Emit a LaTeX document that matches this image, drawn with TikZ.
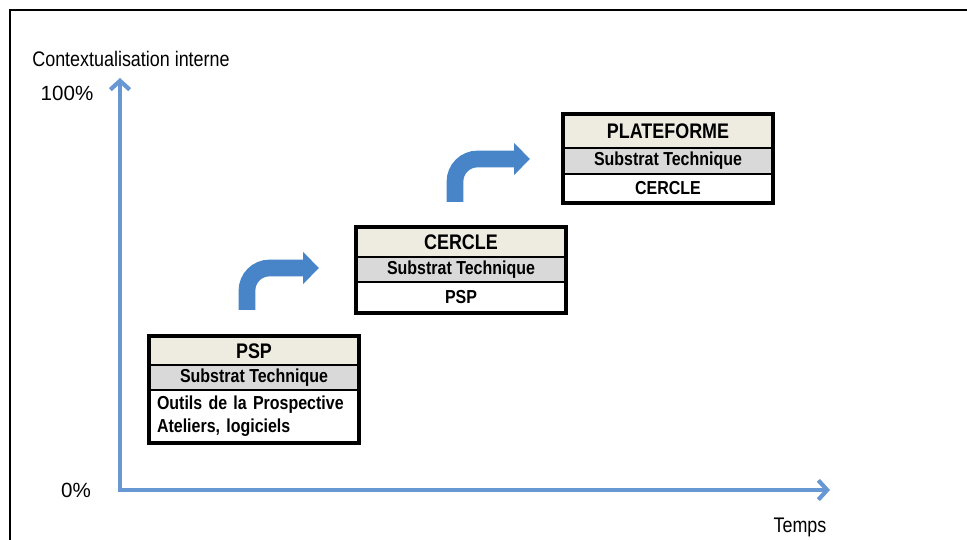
\documentclass[tikz,border=0pt]{standalone}
\usepackage{fontspec}
\setmainfont{Liberation Sans}[FakeStretch=0.85]
\newfontfamily\pctfont{Liberation Sans}
\usetikzlibrary{arrows.meta}
\definecolor{headfill}{RGB}{238,236,225}
\definecolor{subfill}{RGB}{217,217,217}
\definecolor{axisblue}{RGB}{104,152,211}
\definecolor{bendblue}{RGB}{72,132,200}

\begin{document}
\begin{tikzpicture}[x=0.02cm, y=-0.02cm,
  row/.style={draw, line width=0.9pt, inner sep=0pt, minimum width=4.16cm},
  headrow/.style={row, fill=headfill, font=\fontsize{12}{14}\selectfont\bfseries},
  subrow/.style={row, fill=subfill, font=\fontsize{10.7}{13}\selectfont\bfseries},
  bodyrow/.style={row, fill=white, font=\fontsize{10.7}{13}\selectfont\bfseries},
  boxframe/.style={draw, line width=2.3pt},
  axis/.style={draw=axisblue, line width=2.4pt, {Straight Barb[length=5pt,width=11pt]}-{Straight Barb[length=5pt,width=11pt]}},
  bentarrow/.style={draw=bendblue, line width=9.5pt, rounded corners=0.45cm, -{Triangle[length=9pt,width=17.5pt]}},
  axislabel/.style={font=\fontsize{12}{14}\selectfont},
  pctlabel/.style={font=\pctfont\fontsize{11.7}{14}\selectfont}]
\useasboundingbox (0,0) rectangle (967,540);
\draw[line width=1.2pt] (10,540) -- (10,10) -- (967,10);

\coordinate (ytop) at (120,78);
\coordinate (origin) at (120,490);
\coordinate (xend) at (830,490);
\draw[axis] (ytop) -- (origin) -- (xend);

\node[axislabel] (ylabel) at (131,59) {Contextualisation interne};
\node[pctlabel] (ymax) at (67,93) {100\%};
\node[pctlabel] (ymin) at (76,490) {0\%};
\node[axislabel] (xlabel) at (800,527) {Temps};

\node[headrow, minimum height=0.56cm] (psp-head) at (254,351) {PSP};
\node[subrow, minimum height=0.5cm] (psp-sub) at (254,377.5) {Substrat Technique};
\node[bodyrow, minimum height=1.04cm, text width=3.88cm, inner xsep=0.14cm, align=left] (psp-body) at (254,416) {Outils de la Prospective\\Ateliers, logiciels};
\draw[boxframe] (psp-head.north west) rectangle (psp-body.south east);

\node[headrow, minimum height=0.58cm] (cercle-head) at (461,242.5) {CERCLE};
\node[subrow, minimum height=0.5cm] (cercle-sub) at (461,269.5) {Substrat Technique};
\node[bodyrow, minimum height=0.6cm] (cercle-body) at (461,297) {PSP};
\draw[boxframe] (cercle-head.north west) rectangle (cercle-body.south east);

\node[headrow, minimum height=0.66cm] (plat-head) at (668,131.5) {PLATEFORME};
\node[subrow, minimum height=0.52cm] (plat-sub) at (668,161) {Substrat Technique};
\node[bodyrow, minimum height=0.56cm] (plat-body) at (668,188) {CERCLE};
\draw[boxframe] (plat-head.north west) rectangle (plat-body.south east);

\coordinate (bend1a) at (247,310);
\coordinate (bend1b) at (319,268);
\coordinate (bend2a) at (455,202);
\coordinate (bend2b) at (530,159);
\draw[bentarrow] (bend1a) |- (bend1b);
\draw[bentarrow] (bend2a) |- (bend2b);
\end{tikzpicture}
\end{document}
